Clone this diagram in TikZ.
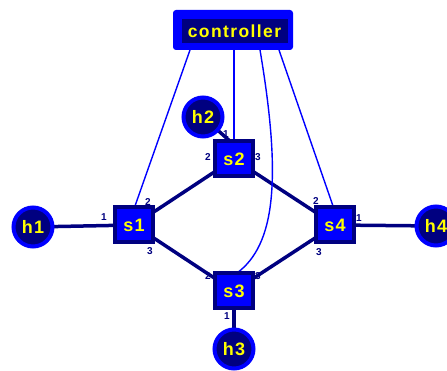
\documentclass[tikz,border=0pt]{standalone}
\usepackage{fontspec}
\setmainfont{Liberation Sans}
\definecolor{cblue}{RGB}{0,0,255}
\definecolor{cnavy}{RGB}{0,0,128}
\definecolor{cyel}{RGB}{255,255,0}
\newfontfamily\lblfont[LetterSpace=8]{Liberation Sans}
\begin{document}
\begin{tikzpicture}[x=1pt,y=-1pt,
  host/.style={circle,draw=cblue,fill=cnavy,line width=4pt,minimum size=39pt,inner sep=0pt,
    text=cyel,font=\lblfont\fontsize{18}{18}\selectfont\bfseries},
  switch/.style={rectangle,draw=cnavy,fill=cblue,line width=4pt,minimum width=38pt,minimum height=35pt,inner sep=0pt,
    text=cyel,font=\lblfont\fontsize{18}{18}\selectfont\bfseries},
  link/.style={draw=cnavy,line width=3.5pt},
  ctl/.style={draw=cblue,line width=1.4pt},
  port/.style={text=cnavy,font=\fontsize{10}{10}\selectfont\bfseries,inner sep=0pt}]
\useasboundingbox (0,0) rectangle (447,371);
% controller
\node[rectangle,rounded corners=3pt,fill=cblue,minimum width=120pt,minimum height=40pt] (ctrlout) at (233,30) {};
\node[rectangle,fill=cnavy,minimum width=106pt,minimum height=24pt,text=cyel,inner sep=0pt,
  font=\lblfont\fontsize{17.5}{18}\selectfont\bfseries] (ctrl) at (234.5,31) {controller};
% coordinates on controller bottom
\coordinate (c1) at (190,50);
\coordinate (c2) at (234,50);
\coordinate (c3) at (260,50);
\coordinate (c4) at (279,50);
% hosts and switches positions
\coordinate (ps1) at (134,225);
\coordinate (ps2) at (234,159);
\coordinate (ps3) at (234,291);
\coordinate (ps4) at (335,225);
\coordinate (ph2) at (203,117);
\coordinate (s2in) at (232,143);
% links (under nodes)
\draw[link] (33,227) -- (ps1);
\draw[link] (436,226) -- (ps4);
\draw[link] (ps3) -- (234,349);
\draw[link] (ph2) -- (s2in);
\draw[link] (ps1) -- (ps2);
\draw[link] (ps1) -- (ps3);
\draw[link] (ps2) -- (ps4);
\draw[link] (ps3) -- (ps4);
% controller lines
\draw[ctl] (c1) -- (135,206);
\draw[ctl] (c2) -- (234,141);
\draw[ctl] (c4) -- (333,206);
\draw[ctl] (c3) .. controls (282,180) and (275,245) .. (237,273);
% nodes
\node[switch] (s1) at (ps1) {s1};
\node[switch] (s2) at (ps2) {s2};
\node[switch] (s3) at (ps3) {s3};
\node[switch] (s4) at (ps4) {s4};
\node[host] (h1) at (33,227) {h1};
\node[host] (h2) at (ph2) {h2};
\node[host] (h3) at (234,349) {h3};
\node[host] (h4) at (436,226) {h4};
% port labels
\node[port] (p11) at (104,217) {1};
\node[port] (p12) at (148,202) {2};
\node[port] (p13) at (150,251) {3};
\node[port] (p21) at (226,134) {1};
\node[port] (p22) at (208,157) {2};
\node[port] (p23) at (258,157) {3};
\node[port] (p32) at (208,276) {2};
\node[port] (p33) at (258,276) {3};
\node[port] (p31) at (227,316) {1};
\node[port] (p42) at (316,201) {2};
\node[port] (p41) at (359,218) {1};
\node[port] (p43) at (319,252) {3};
\end{tikzpicture}
\end{document}
